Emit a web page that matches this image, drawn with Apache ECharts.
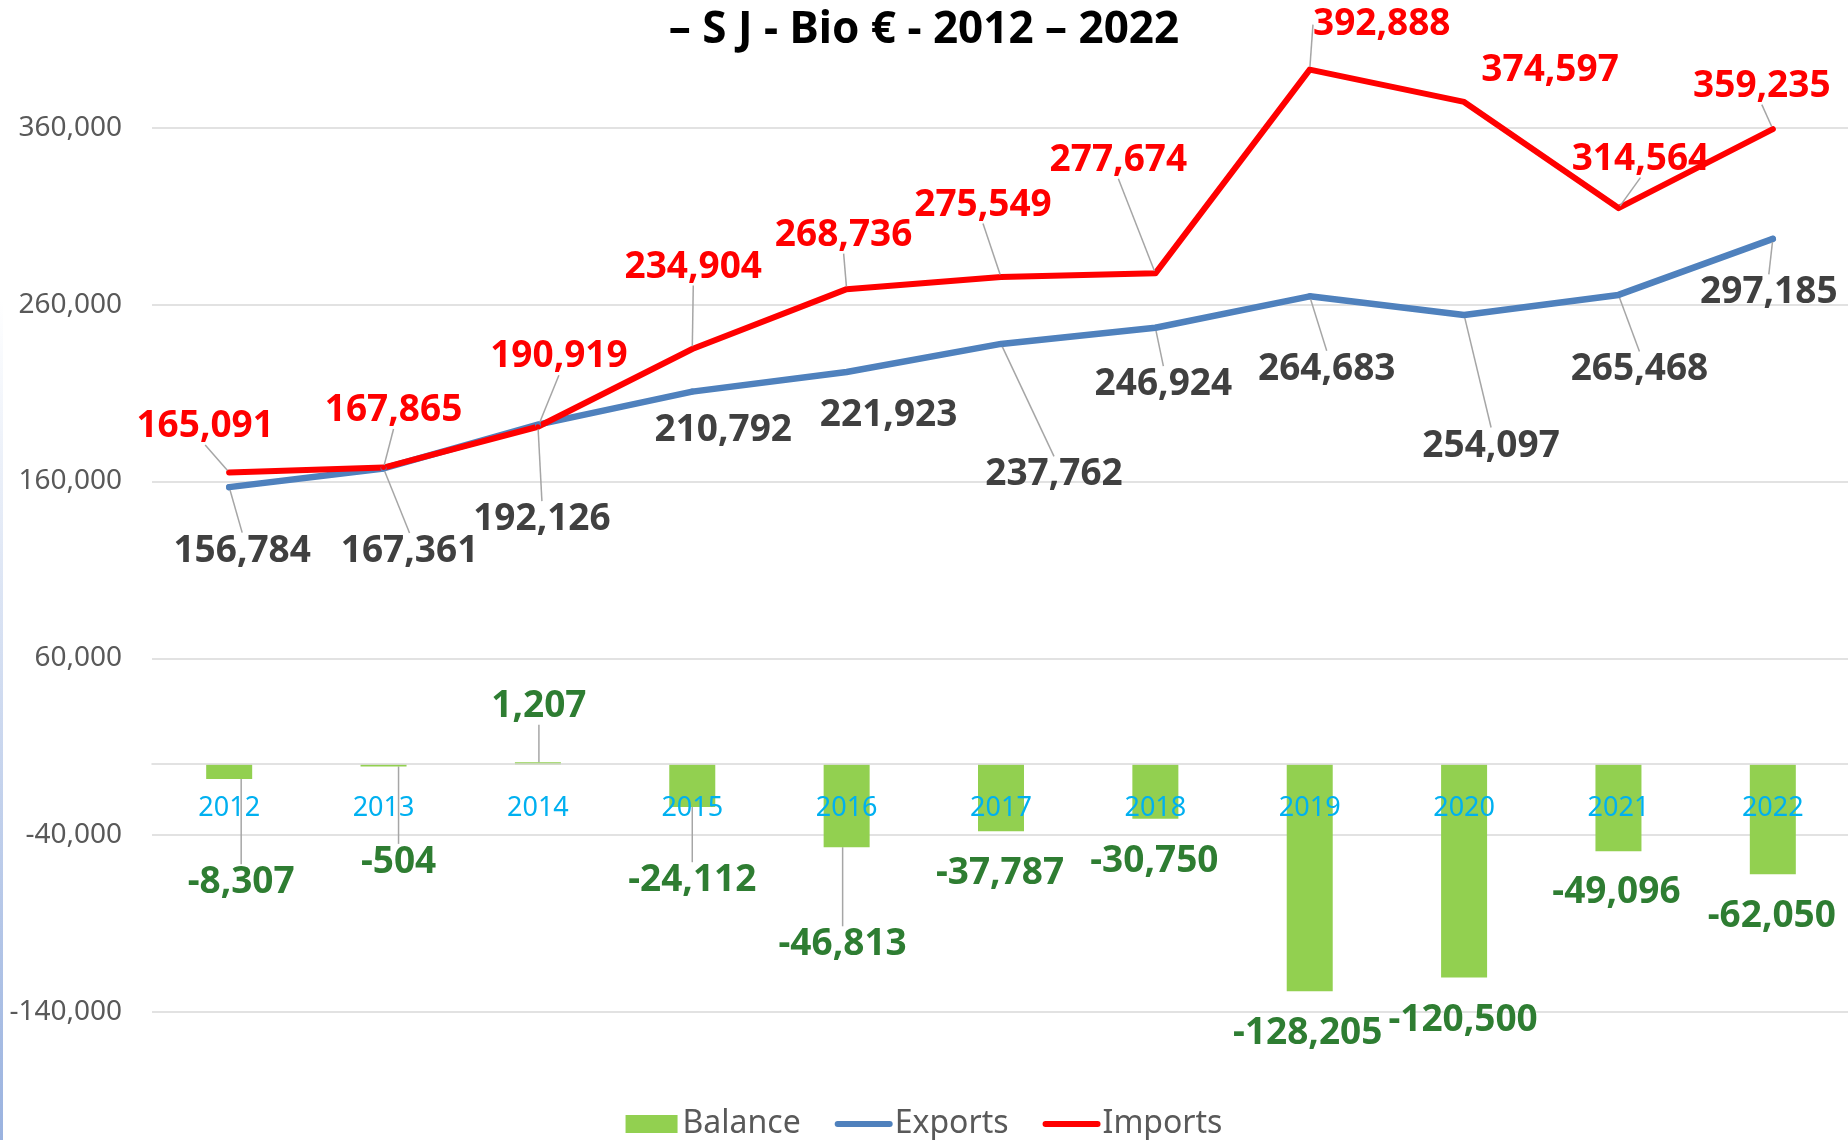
<!DOCTYPE html>
<html>
<head>
<meta charset="utf-8">
<title>S J - Bio € - 2012 – 2022</title>
<script src="https://cdn.jsdelivr.net/npm/echarts@6/dist/echarts.min.js"></script>
<style>
  html, body { margin: 0; padding: 0; background: #fff; }
  #chart { width: 1848px; height: 1140px; }
</style>
</head>
<body>
<div id="chart"></div>
<script>
const years = ['2012', '2013', '2014', '2015', '2016', '2017', '2018', '2019', '2020', '2021', '2022']
const exportsData = [156784, 167361, 192126, 210792, 221923, 237762, 246924, 264683, 254097, 265468, 297185]
const importsData = [165091, 167865, 190919, 234904, 268736, 275549, 277674, 392888, 374597, 314564, 359235]
const balanceData = [-8307, -504, 1207, -24112, -46813, -37787, -30750, -128205, -120500, -49096, -62050]
const yMin = -140000
const yMax = 400000
const yStep = 100000

// where each data label sits: offset of the label centre from the point / bar centre (px)
const importLabelPos = [[-24, -46], [10, -57], [21, -70], [1, -82], [-3, -54], [-18, -72], [-37, -113], [72, -45], [86, -31], [22, -49], [-11, -43]]
const exportLabelPos = [[13, 64], [26, 83], [4, 95], [31, 39], [42, 44], [53, 131], [8, 57], [17, 73], [27, 131], [21, 75], [-4, 54]]
const balanceLabelPos = [[12, 111], [15, 97], [1, -57], [0, 95], [-4, 139], [-1, 76], [-1, 70], [-2, 156], [-1, 149], [-2, 85], [-1, 97]]
// leader line or not
const importLeader = [1, 1, 1, 1, 1, 1, 1, 1, 0, 1, 1]
const exportLeader = [1, 1, 1, 0, 0, 1, 1, 1, 1, 1, 1]
const balanceLeader = [1, 1, 1, 1, 1, 0, 0, 0, 0, 0, 0]

const labelFont = 'Noto Sans'

function placeLabel(offsets) {
  return function (params) {
    const o = offsets[params.dataIndex]
    return {
      x: params.rect.x + params.rect.width / 2 + o[0],
      y: params.rect.y + params.rect.height / 2 + o[1],
      align: 'center',
      verticalAlign: 'middle'
    }
  }
}

function withLeader(values, flags) {
  return values.map((v, i) => ({ value: v, labelLine: { show: !!flags[i] } }))
}

function fmt(p) {
  return Number(p.value).toLocaleString('en-US')
}

const leaderLine = {
  show: true,
  lineStyle: { color: '#A6A6A6', width: 1.5 }
}

const chart = echarts.init(document.getElementById('chart'))

chart.setOption({
  animation: false,
  backgroundColor: '#fff',
  title: {
    text: '– S J - Bio € - 2012 – 2022',
    left: 'center',
    top: 3,
    textStyle: {
      fontFamily: labelFont,
      fontWeight: 'bold',
      fontSize: 44,
      color: '#000'
    }
  },
  graphic: [
    {
      type: 'rect',
      left: 0,
      top: 300,
      shape: { width: 3, height: 840 },
      style: {
        fill: new echarts.graphic.LinearGradient(0, 0, 0, 1, [
          { offset: 0, color: 'rgba(143, 170, 220, 0)' },
          { offset: 1, color: 'rgba(143, 170, 220, 0.9)' }
        ])
      }
    }
  ],
  legend: {
    left: 'center',
    bottom: -5,
    itemWidth: 52,
    itemHeight: 18,
    itemGap: 34,
    textStyle: { fontFamily: labelFont, fontSize: 32, color: '#595959' },
    data: [
      { name: 'Balance', icon: 'rect' },
      { name: 'Exports', itemStyle: { opacity: 0 }, lineStyle: { width: 6, cap: 'round' } },
      { name: 'Imports', itemStyle: { opacity: 0 }, lineStyle: { width: 6, cap: 'round' } }
    ]
  },
  grid: {
    left: 152,
    right: -2,
    top: 57,
    bottom: 128,
    outerBoundsMode: 'none'
  },
  xAxis: {
    type: 'category',
    data: years,
    z: 3,
    offset: -248, // sits on the zero line
    axisTick: { show: false },
    axisLine: { onZero: false, lineStyle: { color: '#D9D9D9', width: 1.5 } },
    axisLabel: {
      color: '#00B0F0',
      fontFamily: labelFont,
      fontSize: 27,
      margin: 31
    }
  },
  yAxis: {
    type: 'value',
    min: yMin,
    max: yMax,
    interval: yStep,
    axisLine: { show: false },
    axisTick: { show: false },
    axisLabel: {
      color: '#595959',
      fontFamily: labelFont,
      fontSize: 28,
      margin: 30,
      showMaxLabel: false
    },
    splitLine: {
      showMaxLine: false,
      lineStyle: { color: '#D9D9D9', width: 1.5 }
    }
  },
  series: [
    {
      name: 'Balance',
      type: 'bar',
      barWidth: 46,
      barMinHeight: 2,
      data: withLeader(balanceData, balanceLeader),
      itemStyle: { color: '#92D050' },
      label: {
        show: true,
        formatter: fmt,
        fontFamily: labelFont,
        fontWeight: 'bold',
        fontSize: 37,
        color: '#2E7D32'
      },
      labelLayout: placeLabel(balanceLabelPos),
      labelLine: leaderLine
    },
    {
      name: 'Exports',
      type: 'line',
      data: withLeader(exportsData, exportLeader),
      symbol: 'circle',
      symbolSize: 6,
      showSymbol: true,
      itemStyle: { color: '#4F81BD' },
      lineStyle: { color: '#4F81BD', width: 6.5, cap: 'round', join: 'round' },
      label: {
        show: true,
        formatter: fmt,
        fontFamily: labelFont,
        fontWeight: 'bold',
        fontSize: 37,
        color: '#404040'
      },
      labelLayout: placeLabel(exportLabelPos),
      labelLine: leaderLine
    },
    {
      name: 'Imports',
      type: 'line',
      data: withLeader(importsData, importLeader),
      symbol: 'circle',
      symbolSize: 5,
      showSymbol: true,
      itemStyle: { color: '#FF0000' },
      lineStyle: { color: '#FF0000', width: 6, cap: 'round', join: 'round' },
      label: {
        show: true,
        formatter: fmt,
        fontFamily: labelFont,
        fontWeight: 'bold',
        fontSize: 37,
        color: '#FF0000'
      },
      labelLayout: placeLabel(importLabelPos),
      labelLine: leaderLine
    }
  ]
})
</script>
</body>
</html>
